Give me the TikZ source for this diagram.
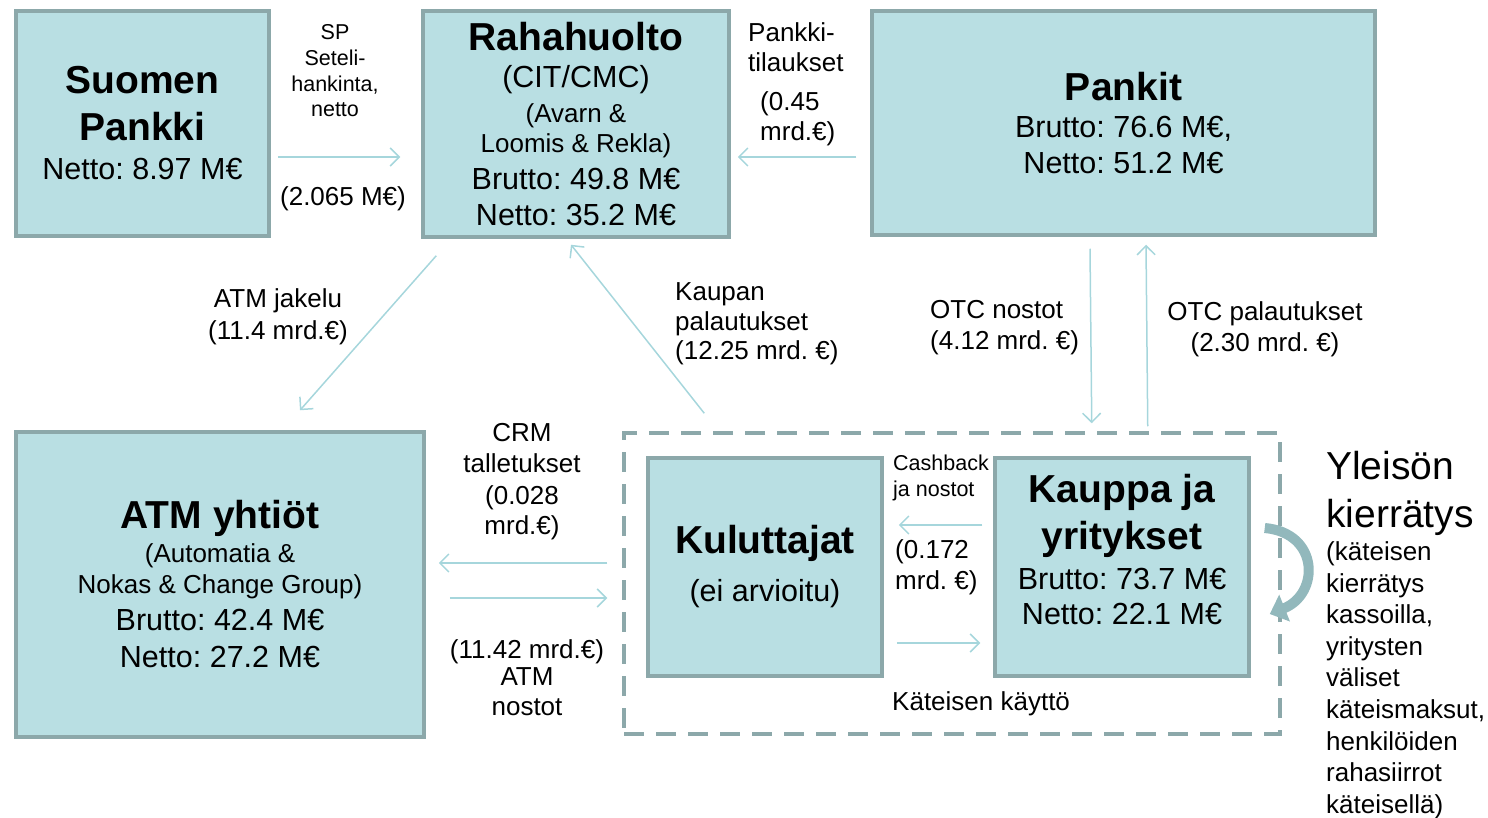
\documentclass[tikz,border=0pt]{standalone}
\usepackage{fontspec}
\setmainfont{Liberation Sans}
\usetikzlibrary{arrows.meta}
\definecolor{boxfill}{RGB}{185,223,227}
\definecolor{boxline}{RGB}{140,168,170}
\definecolor{flowline}{RGB}{166,214,220}
\definecolor{loopcol}{RGB}{146,184,188}
\newcommand{\fTitle}{\fontsize{39}{0}\selectfont\bfseries}
\newcommand{\fBig}{\fontsize{39}{0}\selectfont}
\newcommand{\fVal}{\fontsize{30.5}{0}\selectfont}
\newcommand{\fMid}{\fontsize{26}{0}\selectfont}
\newcommand{\fSmall}{\fontsize{21.5}{0}\selectfont}
% line distances in the nodes come only from \\[..]
\setlength{\lineskiplimit}{-500pt}
\frenchspacing

\begin{document}
\begin{tikzpicture}[x=1pt, y=-1pt,
    box/.style={draw=boxline, fill=boxfill, line width=3.5pt, inner sep=0pt, align=center, font=\fVal},
    txt/.style={inner sep=0pt, align=center, font=\fMid},
    flow/.style={draw=flowline, line width=1.5pt, -{Straight Barb[length=9pt, width=18pt]}}]
    \useasboundingbox (0,0) rectangle (1488,818);

    \node[box, minimum width=253pt, minimum height=225pt] (suomen) at (142.5,123.5)
        {\fTitle Suomen\\[47pt]\fTitle Pankki\\[39pt]Netto: 8.97 M€};
    \node[box, minimum width=306pt, minimum height=226pt] (raha) at (576,124)
        {\fTitle Rahahuolto\\[37pt](CIT/CMC)\\[35pt]\fMid (Avarn \&\\[30pt]\fMid Loomis \& Rekla)\\[37pt]Brutto: 49.8 M€\\[36pt]Netto: 35.2 M€};
    \node[box, minimum width=503pt, minimum height=224pt] (pankit) at (1123.5,123)
        {\fTitle Pankit\\[37pt]Brutto: 76.6 M€,\\[36pt]Netto: 51.2 M€};
    \node[box, minimum width=408pt, minimum height=305pt] (atm) at (220,584.5)
        {\fTitle ATM yhtiöt\\[34pt]\fMid (Automatia \&\\[31pt]\fMid Nokas \& Change Group)\\[37pt]Brutto: 42.4 M€\\[37pt]Netto: 27.2 M€};
    \node[draw=boxline, line width=3.5pt, dash pattern=on 20pt off 12pt, inner sep=0pt,
        minimum width=656pt, minimum height=301pt] (kaytto) at (952,583.5) {};
    \node[box, minimum width=234pt, minimum height=218pt] (kulut) at (765,567)
        {\fTitle Kuluttajat\\[48pt](ei arvioitu)};
    \node[box, minimum width=254pt, minimum height=218pt,
        label={[txt, font=\fVal, yshift=17pt]center:{\fTitle Kauppa ja\\[47pt]\fTitle yritykset\\[40pt]Brutto: 73.7 M€\\[35pt]Netto: 22.1 M€}}]
        (kauppa) at (1122,567) {};

    \node[txt, font=\fSmall] (spnote) at (335,71) {SP\\[26pt]Seteli-\\[26pt]hankinta,\\[25pt]netto};
    \node[txt] (spsum) at (343,199) {(2.065 M€)};
    \node[txt, align=left, anchor=west] (tilaus) at (748,47) {Pankki-\\[30pt]tilaukset};
    \node[txt, align=left, anchor=west] (tilaussum) at (760,119) {(0.45\\[30pt]mrd.€)};
    \node[txt] (jakelu) at (278,317) {ATM jakelu\\[32pt](11.4 mrd.€)};
    \node[txt, align=left, anchor=west] (palaut) at (675,324) {Kaupan\\[30pt]palautukset\\[29pt](12.25 mrd. €)};
    \node[txt, align=left, anchor=west] (otcnost) at (930,328) {OTC nostot\\[31pt](4.12 mrd. €)};
    \node[txt] (otcpal) at (1265,329) {OTC palautukset\\[31pt](2.30 mrd. €)};
    \node[txt] (crm) at (522,482) {CRM\\[31pt]talletukset\\[32pt](0.028\\[30pt]mrd.€)};
    \node[txt] (atmnost) at (527,678) {(11.42 mrd.€)\\[27pt]ATM\\[30pt]nostot};
    \node[txt, font=\fSmall, align=left, anchor=west] (cashback) at (893,478) {Cashback\\[26pt]ja nostot};
    \node[txt, align=left, anchor=west] (cashsum) at (895,567) {(0.172\\[31pt]mrd. €)};
    \node[txt, align=left, anchor=west] (kayttoname) at (892,704) {Käteisen käyttö};
    \node[txt, align=left, anchor=north west] (yleiso) at (1326,451)
        {\fBig Yleisön\\[48pt]\fBig kierrätys\\[33pt](käteisen\\[31.6pt]kierrätys\\[31.6pt]kassoilla,\\[31.6pt]yritysten\\[31.6pt]väliset\\[31.6pt]käteismaksut,\\[31.6pt]henkilöiden\\[31.6pt]rahasiirrot\\[31.6pt]käteisellä)};

    \draw[flow] ([shift={(7,33.5)}]suomen.east) -- ([shift={(-21,33)}]raha.west);
    \draw[flow] ([shift={(-14,34)}]pankit.west) -- ([shift={(7,33)}]raha.east);
    \draw[flow] ([shift={(15,17)}]raha.south west) -- ([shift={(80,-20)}]atm.north);
    \draw[flow] ([shift={(82,-18)}]kaytto.north west) -- ([shift={(-5,6)}]raha.south);
    \draw[flow] ([shift={(-33.5,12)}]pankit.south) -- ([shift={(-190,-8)}]kaytto.north east);
    \draw[flow] ([shift={(-134,-5)}]kaytto.north east) -- ([shift={(22.5,8)}]pankit.south);
    \draw[flow] ([shift={(-15,-20.5)}]kaytto.west) -- ([shift={(13,-21.5)}]atm.east);
    \draw[flow] ([shift={(24,13.5)}]atm.east) -- ([shift={(-15,14.5)}]kaytto.west);
    \draw[flow] ([shift={(-11,-42)}]kauppa.west) -- ([shift={(15,-42)}]kulut.east);
    \draw[flow] ([shift={(13,76)}]kulut.east) -- ([shift={(-13,76)}]kauppa.west);
    \draw[draw=loopcol, line width=10pt, -{Triangle[length=16pt, width=28pt]}]
        ([shift={(14,-39)}]kauppa.east) .. controls +(55,5) and +(50,-20) .. ([shift={(19,47)}]kauppa.east);
\end{tikzpicture}
\end{document}
